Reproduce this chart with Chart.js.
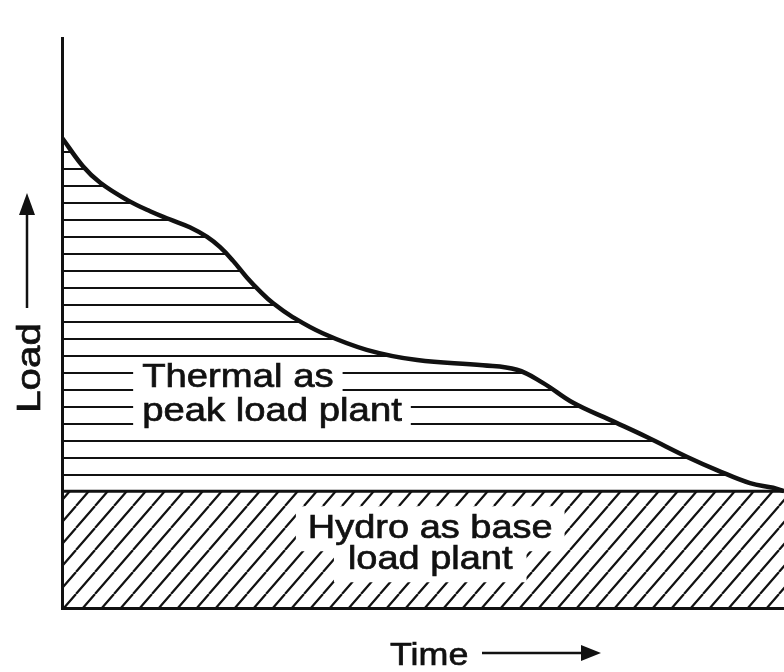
<!DOCTYPE html>
<html>
<head>
<meta charset="utf-8">
<script src="https://cdn.jsdelivr.net/npm/chart.js@4.4.1/dist/chart.umd.min.js"></script>
<style>
  html, body { margin: 0; padding: 0; background: #fff; }
  canvas { display: block; }
</style>
</head>
<body>
<canvas id="loadChart" width="784" height="672"></canvas>
<script>
// ---- load curve data (time in % of period, load in % of axis) ----
const timeValues = [0, 2.9, 5.3, 9.0, 12.2, 14.9, 17.7, 20.1, 21.9, 23.7, 25.6, 27.4, 29.2, 32.0,
                    36.1, 42.2, 49.2, 58.3, 63.0, 66.6, 70.8, 75.9, 81.0, 86.6, 90.7, 95.3, 98.5, 100];
const loadValues = [82.5, 77.5, 74.6, 71.6, 69.6, 68.2, 66.8, 65.1, 63.3, 60.9, 58.0, 55.6, 53.5, 51.0,
                    48.2, 45.3, 43.5, 42.6, 41.8, 39.5, 36.0, 33.0, 30.0, 26.5, 24.2, 21.9, 21.1, 20.5];
const baseLoad = 20.5;          // hydro plant carries this much all the time
const timeRange = [0, 100];
const loadRange = [0, 100];
const thermalLabel = ['Thermal as', 'peak load plant'];
const hydroLabel = ['Hydro as base', 'load plant'];
const xTitle = 'Time';
const yTitle = 'Load';

const FONT = '"Liberation Sans", Arial, Helvetica, sans-serif';

// horizontal hatching for the thermal block
function stripePattern() {
    const c = document.createElement('canvas');
    c.width = 8; c.height = 17;
    const g = c.getContext('2d');
    g.fillStyle = '#111';
    g.fillRect(0, 15, 8, 2);
    return g.createPattern(c, 'repeat');
}

// "/" hatching for the hydro block
function diagonalPattern() {
    const w = 19, h = 22;
    const c = document.createElement('canvas');
    c.width = w; c.height = h;
    const g = c.getContext('2d');
    g.strokeStyle = '#111';
    g.lineWidth = 2.2;
    g.beginPath();
    for (const off of [-w, 0, w]) {
        g.moveTo(off, h);
        g.lineTo(off + w, 0);
    }
    g.stroke();
    return g.createPattern(c, 'repeat');
}

function textLeft(ctx, text, x, size, stretch, align) {
    ctx.font = size + 'px ' + FONT;
    const w = ctx.measureText(text).width * stretch;
    return { left: align === 'center' ? x - w / 2 : x, width: w };
}

// white box behind a caption so the hatching breaks around it
function clearBox(ctx, text, x, y, size, stretch, align, pad) {
    const m = textLeft(ctx, text, x, size, stretch, align);
    ctx.save();
    ctx.fillStyle = '#fff';
    ctx.fillRect(m.left - pad[0], y - size * 0.78 - pad[1], m.width + pad[0] * 2, size + pad[1] * 2);
    ctx.restore();
}

// horizontally stretched text
function wideText(ctx, text, x, y, size, stretch, align) {
    ctx.save();
    const m = textLeft(ctx, text, x, size, stretch, align);
    ctx.translate(m.left, y);
    ctx.scale(stretch, 1);
    ctx.fillStyle = '#111';
    ctx.strokeStyle = '#111';
    ctx.lineWidth = 0.7;
    ctx.textBaseline = 'alphabetic';
    ctx.textAlign = 'left';
    ctx.fillText(text, 0, 0);
    ctx.strokeText(text, 0, 0);
    ctx.restore();
}

function arrowHead(ctx, tipX, tipY, dx, dy, len, half) {
    // dx,dy: unit direction the arrow points to
    const bx = tipX - dx * len, by = tipY - dy * len;
    ctx.beginPath();
    ctx.moveTo(tipX, tipY);
    ctx.lineTo(bx - dy * half, by + dx * half);
    ctx.lineTo(bx + dy * half, by - dx * half);
    ctx.closePath();
    ctx.fill();
}

const labelsPlugin = {
    id: 'labels',
    afterDatasetsDraw(chart) {
        const ctx = chart.ctx;
        const x = chart.scales.x;

        // region captions: boxes first, then text
        const tx = x.getPixelForValue(11.1);
        const hx = x.getPixelForValue(51.0);
        const captions = [
            [thermalLabel[0], tx, 387, 1.16, 'left', [9, 3]],
            [thermalLabel[1], tx, 421, 1.16, 'left', [9, 3]],
            [hydroLabel[0], hx, 538, 1.15, 'center', [12, 6]],
            [hydroLabel[1], hx, 569, 1.15, 'center', [14, 6]]
        ];
        captions.forEach(c => clearBox(ctx, c[0], c[1], c[2], 33, c[3], c[4], c[5]));
        captions.forEach(c => wideText(ctx, c[0], c[1], c[2], 33, c[3], c[4]));
    },
    afterDraw(chart) {
        const ctx = chart.ctx;
        ctx.save();
        ctx.fillStyle = '#111';
        ctx.strokeStyle = '#111';
        ctx.lineWidth = 2.5;

        // Time -->
        wideText(ctx, xTitle, 390, 665, 32, 1.12, 'left');
        ctx.beginPath();
        ctx.moveTo(482, 653);
        ctx.lineTo(585, 653);
        ctx.stroke();
        arrowHead(ctx, 601, 653, 1, 0, 20, 8);

        // Load -->, rotated
        ctx.save();
        ctx.translate(40, 368);
        ctx.rotate(-Math.PI / 2);
        wideText(ctx, yTitle, 0, 0, 33, 1.22, 'center');
        ctx.restore();
        ctx.beginPath();
        ctx.moveTo(27, 308);
        ctx.lineTo(27, 210);
        ctx.stroke();
        arrowHead(ctx, 27, 193, 0, -1, 22, 8);
        ctx.restore();
    }
};

const ctx = document.getElementById('loadChart').getContext('2d');
const chart = new Chart(ctx, {
    type: 'line',
    data: {
        datasets: [
            {
                label: 'Thermal',
                data: timeValues.map((t, i) => ({ x: t, y: loadValues[i] })),
                borderColor: '#111',
                borderWidth: 4.5,
                pointRadius: 0,
                tension: 0.4,
                fill: { value: baseLoad },
                backgroundColor: stripePattern()
            },
            {
                label: 'Hydro',
                data: [{ x: timeRange[0], y: baseLoad }, { x: timeRange[1], y: baseLoad }],
                borderColor: '#111',
                borderWidth: 3,
                pointRadius: 0,
                fill: 'origin',
                backgroundColor: diagonalPattern()
            }
        ]
    },
    options: {
        responsive: false,
        animation: false,
        events: [],
        layout: { padding: { left: 62, top: 38, right: 0, bottom: 64 } },
        plugins: { legend: { display: false }, tooltip: { enabled: false } },
        scales: {
            x: {
                type: 'linear', min: timeRange[0], max: timeRange[1],
                grid: { display: false, drawTicks: false },
                ticks: { display: false },
                border: { display: true, color: '#111', width: 3 },
                afterFit: (s) => { s.height = 0; }
            },
            y: {
                type: 'linear', min: loadRange[0], max: loadRange[1],
                grid: { display: false, drawTicks: false },
                ticks: { display: false },
                border: { display: true, color: '#111', width: 3 },
                afterFit: (s) => { s.width = 0; }
            }
        }
    },
    plugins: [labelsPlugin]
});
</script>
</body>
</html>
